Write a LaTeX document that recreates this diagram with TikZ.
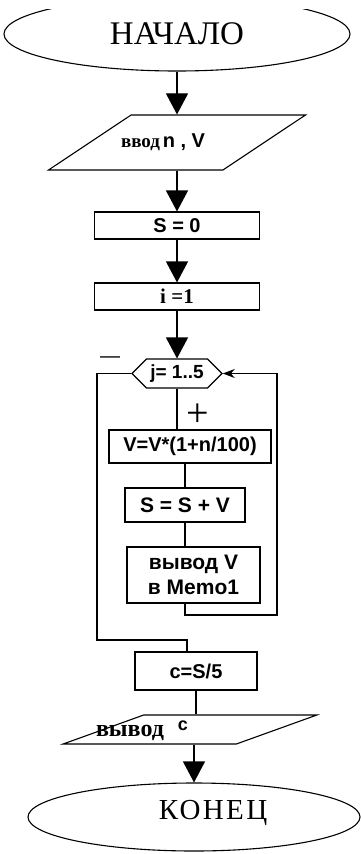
\documentclass[tikz,border=0pt]{standalone}
\usepackage{fontspec}
\setmainfont{Liberation Sans}
\newfontfamily\seriffnt{Liberation Serif}
\newfontfamily\spacedfnt[LetterSpace=8]{Liberation Serif}
\usetikzlibrary{arrows.meta,shapes.geometric,shapes.symbols}

\begin{document}
\begin{tikzpicture}[x=1pt,y=-1pt,line width=1.1pt,
    term/.style={ellipse,draw,inner sep=0pt},
    box/.style={rectangle,draw,inner sep=0pt,font=\fontsize{20}{22}\selectfont\bfseries},
    io/.style={trapezium,draw,trapezium stretches=true,inner sep=3pt},
    flow/.style={-{Triangle[length=21pt,width=22pt]}},
    back/.style={-{Stealth[length=12pt,width=9pt]}}]
    \useasboundingbox (0,0) rectangle (361,854);
    \clip (0,9) rectangle (361,854);

    % Draw the start, input and the two assignments
    \node[term,minimum width=346pt,minimum height=74pt,
          font={\seriffnt\fontsize{33}{33}\selectfont}] (start) at (177,34) {НАЧАЛО};
    \node[io,trapezium left angle=48,trapezium right angle=132,
          minimum width=257pt,minimum height=55pt] (input) at (177,142.5) {};
    \node (intxt) at (163,142) {{\seriffnt\bfseries\fontsize{19}{19}\selectfont ввод}
        {\fontsize{20}{20}\selectfont\bfseries n , V}};
    \node[box,minimum width=165pt,minimum height=27pt] (sinit) at (177,225.5) {S = 0};
    \node[box,minimum width=165pt,minimum height=27pt,
          font={\seriffnt\fontsize{21}{21}\selectfont\bfseries}] (iinit) at (177,296.5) {i =1};

    % Draw the loop head and its body
    \node[draw,signal,signal to=west and east,signal pointer angle=90,inner sep=0pt,
          minimum width=90pt,minimum height=29pt,
          font={\fontsize{19}{19}\selectfont\bfseries}] (loop) at (177,373.5) {j= 1..5};
    \node[font={\fontsize{20}{20}\selectfont}] (minus) at (110,360) {—};
    \node[font={\seriffnt\fontsize{40}{40}\selectfont}] (plus) at (198,415) {+};
    \node[box,minimum width=162pt,minimum height=33pt] (upd) at (190,446.5) {V=V*(1+n/100)};
    \node[box,minimum width=120pt,minimum height=34pt,
          font={\fontsize{21}{21}\selectfont\bfseries}] (acc) at (185,505) {S = S + V};
    \node[box,minimum width=133pt,minimum height=56pt,align=center,
          font={\fontsize{21}{25}\selectfont\bfseries}] (prt) at (193.5,575) {вывод V\\в Memo1};

    % Draw the average, output and the end
    \node[box,minimum width=122pt,minimum height=38pt] (avg) at (196,671) {\raisebox{-8pt}{c=S/5}};
    \node[io,trapezium left angle=49,trapezium right angle=131,
          minimum width=254pt,minimum height=29pt] (output) at (190,729.5) {};
    \node (outtxt) at (142,731) {{\seriffnt\bfseries\fontsize{24}{24}\selectfont вывод}\hspace{14pt}%
        \raisebox{6pt}{\bfseries\fontsize{18}{18}\selectfont c}};
    \node[term,minimum width=332pt,minimum height=68pt] (stop) at (194,817) {};
    \node[font={\spacedfnt\fontsize{29}{29}\selectfont}] (stoptxt) at (213,813) {КОНЕЦ};

    % Draw the connectors
    \draw[flow] (start.south) -- (input.north);
    \draw[flow] (input.south) -- (sinit.north);
    \draw[flow] (sinit.south) -- (iinit.north);
    \draw[flow] (iinit.south) -- (loop.north);
    \draw (loop.south) -- (loop.south |- upd.north);
    \draw (upd.south -| acc.north) -- (acc.north);
    \draw (acc.south) -- (acc.south |- prt.north);
    \coordinate (rback) at (277,615);
    \draw[back] (prt.south -| acc.south) |- (rback) |- (loop.east);
    \coordinate (lexit) at (97,640);
    \draw (loop.west) -| (lexit) -| ([xshift=-9pt]avg.north);
    \draw (avg.south) -- (avg.south |- output.north);
    \draw[flow] (stop.north |- output.south) -- (stop.north);
\end{tikzpicture}
\end{document}
